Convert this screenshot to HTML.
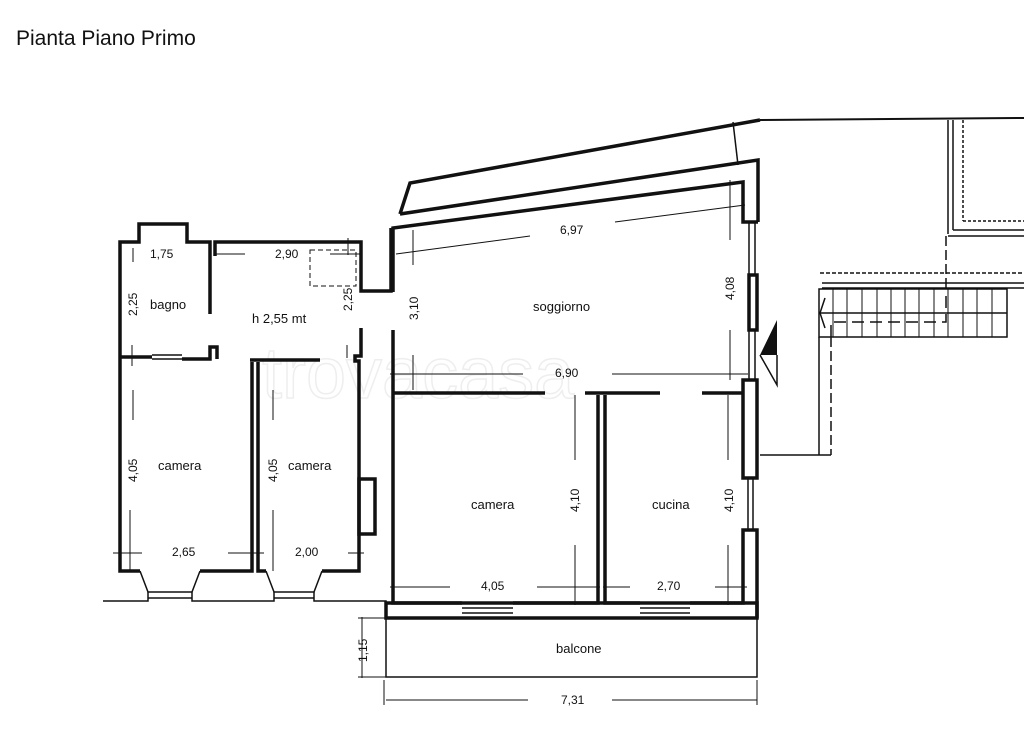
<!DOCTYPE html>
<html><head><meta charset="utf-8"><style>
html,body{margin:0;padding:0;background:#fff;width:1024px;height:731px;overflow:hidden}
svg{display:block}
text{font-family:"Liberation Sans",sans-serif;fill:#111}
</style></head><body>
<svg width="1024" height="731" viewBox="0 0 1024 731" xmlns="http://www.w3.org/2000/svg">
<text x="16" y="45" font-size="21">Pianta Piano Primo</text>
<text x="262" y="398" font-size="72" fill="none" stroke="#eee" stroke-width="1.5" style="fill:none">trovacasa</text>

<g fill="none" stroke="#111" stroke-width="3.5" stroke-linejoin="miter">
<polyline points="120,357 120,242 139,242 139,224 187,224 187,242 210,242 210,314"/>
<polyline points="215,256 215,242 361,242 361,291 391,291 391,228"/>
<polyline points="120,357 152,357"/>
<polyline points="182,359 210,359 210,347 217,347 217,359"/>
<polyline points="250,360 320,360"/>
<polyline points="120,357 120,571 140,571"/>
<polyline points="200,571 252,571 252,362"/>
<polyline points="258,362 258,571 266,571"/>
<polyline points="322,571 359,571 359,361 355,361 355,356 361,356 361,328"/>
<rect x="359" y="479" width="16" height="55"/>
<polyline points="393,330 393,603 462,603"/>
<polyline points="393,292 393,228 743,182 743,222 758,222"/>
<polyline points="400,214 758,160 758,222"/>
<polyline points="400,214 410,183 760,120"/>
<polyline points="393,393 545,393"/>
<polyline points="585,393 660,393"/>
<polyline points="702,393 743,393"/>
<polyline points="598,395 598,603 513,603"/>
<polyline points="605,395 605,603 640,603"/>
<polyline points="690,603 743,603 743,530 757,530 757,618"/>
<rect x="749" y="275" width="8" height="55"/>
<rect x="743" y="380" width="14" height="98"/>
<rect x="386" y="603" width="371" height="15"/>
</g>
<g fill="none" stroke="#111" stroke-width="1.5">
<line x1="760" y1="120" x2="1024" y2="118" stroke-width="2"/>
<line x1="749" y1="222" x2="749" y2="275"/><line x1="755" y1="222" x2="755" y2="275"/>
<line x1="749" y1="330" x2="749" y2="380"/><line x1="755" y1="330" x2="755" y2="380"/>
<line x1="748" y1="478" x2="748" y2="530"/><line x1="753" y1="478" x2="753" y2="530"/>
<line x1="152" y1="355" x2="182" y2="355"/><line x1="152" y1="359" x2="182" y2="359"/>
<polyline points="140,571 148,592 192,592 200,571"/>
<polyline points="266,571 274,592 314,592 322,571"/>
<line x1="148" y1="598" x2="192" y2="598"/><line x1="274" y1="598" x2="314" y2="598"/>
<polyline points="103,601 148,601 148,592"/><polyline points="192,592 192,601 274,601 274,592"/><polyline points="314,592 314,601 386,601 386,618"/>
<line x1="462" y1="608" x2="513" y2="608"/><line x1="462" y1="613" x2="513" y2="613"/>
<line x1="640" y1="608" x2="690" y2="608"/><line x1="640" y1="613" x2="690" y2="613"/>
<polyline points="386,618 386,677 757,677 757,618"/>
<line x1="733" y1="122" x2="738" y2="165"/>
<line x1="948" y1="120" x2="948" y2="234"/><line x1="953" y1="120" x2="953" y2="230"/>
<line x1="953" y1="230" x2="1024" y2="230"/><line x1="948" y1="236" x2="1024" y2="236"/>
<line x1="963" y1="120" x2="963" y2="221" stroke-dasharray="3,2"/><line x1="963" y1="221" x2="1024" y2="221" stroke-dasharray="3,2"/>
<line x1="946" y1="236" x2="946" y2="290" stroke-dasharray="10,4"/>
<line x1="820" y1="273" x2="1024" y2="273" stroke-dasharray="4,2"/>
<line x1="822" y1="283" x2="1024" y2="283"/><line x1="822" y1="288" x2="1024" y2="288"/>
<rect x="819" y="289" width="188" height="48"/>
<line x1="819" y1="313" x2="1007" y2="313"/>
<polyline points="831,337 831,322 946,322 946,290" stroke-dasharray="12,6"/>
<polyline points="825,298 820,313 825,328"/>
<line x1="819" y1="337" x2="819" y2="455"/><line x1="831" y1="337" x2="831" y2="455" stroke-dasharray="10,4"/>
<line x1="760" y1="455" x2="831" y2="455"/>
<polyline points="760,355 777,385 777,355"/>
</g>
<g stroke="#111" stroke-width="1">
<line x1="833" y1="289" x2="833" y2="337"/><line x1="847" y1="289" x2="847" y2="337"/><line x1="862" y1="289" x2="862" y2="337"/><line x1="877" y1="289" x2="877" y2="337"/><line x1="891" y1="289" x2="891" y2="337"/><line x1="905" y1="289" x2="905" y2="337"/><line x1="919" y1="289" x2="919" y2="337"/><line x1="934" y1="289" x2="934" y2="337"/><line x1="948" y1="289" x2="948" y2="337"/><line x1="963" y1="289" x2="963" y2="337"/><line x1="977" y1="289" x2="977" y2="337"/><line x1="992" y1="289" x2="992" y2="337"/>
<line x1="133" y1="262" x2="133" y2="248"/><line x1="348" y1="255" x2="348" y2="238"/>
<line x1="215" y1="254" x2="245" y2="254"/><line x1="330" y1="254" x2="362" y2="254"/>
<line x1="132" y1="345" x2="132" y2="366"/>
<line x1="133" y1="390" x2="133" y2="420"/><line x1="130" y1="510" x2="130" y2="571"/>
<line x1="273" y1="390" x2="273" y2="420"/><line x1="273" y1="510" x2="273" y2="571"/>
<line x1="113" y1="553" x2="142" y2="553"/><line x1="228" y1="553" x2="264" y2="553"/><line x1="348" y1="553" x2="364" y2="553"/>
<line x1="347" y1="345" x2="347" y2="358"/>
<line x1="396" y1="254" x2="530" y2="236"/><line x1="615" y1="222" x2="745" y2="205"/>
<line x1="413" y1="230" x2="413" y2="265"/><line x1="413" y1="355" x2="413" y2="390"/>
<line x1="730" y1="180" x2="730" y2="240"/><line x1="730" y1="330" x2="730" y2="380"/>
<line x1="390" y1="374" x2="523" y2="374"/><line x1="612" y1="374" x2="748" y2="374"/>
<line x1="575" y1="395" x2="575" y2="460"/><line x1="575" y1="545" x2="575" y2="605"/>
<line x1="728" y1="395" x2="728" y2="460"/><line x1="728" y1="545" x2="728" y2="605"/>
<line x1="390" y1="587" x2="450" y2="587"/><line x1="537" y1="587" x2="600" y2="587"/>
<line x1="603" y1="587" x2="630" y2="587"/><line x1="715" y1="587" x2="747" y2="587"/>
<line x1="362" y1="617" x2="362" y2="678"/><line x1="358" y1="618" x2="386" y2="618"/><line x1="358" y1="677" x2="386" y2="677"/>
<line x1="386" y1="700" x2="528" y2="700"/><line x1="612" y1="700" x2="757" y2="700"/>
<line x1="384" y1="680" x2="384" y2="705"/><line x1="757" y1="680" x2="757" y2="705"/>
</g>
<polygon points="777,320 777,355 760,355" fill="#111"/>
<rect x="310" y="250" width="46" height="36" fill="none" stroke="#111" stroke-width="1" stroke-dasharray="5,3"/>
<g font-size="12">
<text x="150" y="258">1,75</text><text x="275" y="258">2,90</text>
<text x="150" y="309" font-size="13">bagno</text>
<text x="252" y="323" font-size="13">h 2,55 mt</text>
<text x="158" y="470" font-size="13">camera</text><text x="288" y="470" font-size="13">camera</text>
<text x="172" y="556">2,65</text><text x="295" y="556">2,00</text>
<text x="533" y="311" font-size="13">soggiorno</text>
<text x="560" y="234">6,97</text><text x="555" y="377">6,90</text>
<text x="471" y="509" font-size="13">camera</text><text x="652" y="509" font-size="13">cucina</text>
<text x="481" y="590">4,05</text><text x="657" y="590">2,70</text>
<text x="556" y="653" font-size="13">balcone</text>
<text x="561" y="704">7,31</text>
<text transform="translate(137,316) rotate(-90)">2,25</text>
<text transform="translate(352,311) rotate(-90)">2,25</text>
<text transform="translate(137,482) rotate(-90)">4,05</text>
<text transform="translate(277,482) rotate(-90)">4,05</text>
<text transform="translate(418,320) rotate(-90)">3,10</text>
<text transform="translate(734,300) rotate(-90)">4,08</text>
<text transform="translate(579,512) rotate(-90)">4,10</text>
<text transform="translate(733,512) rotate(-90)">4,10</text>
<text transform="translate(367,662) rotate(-90)">1,15</text>
</g>
</svg>
</body></html>
